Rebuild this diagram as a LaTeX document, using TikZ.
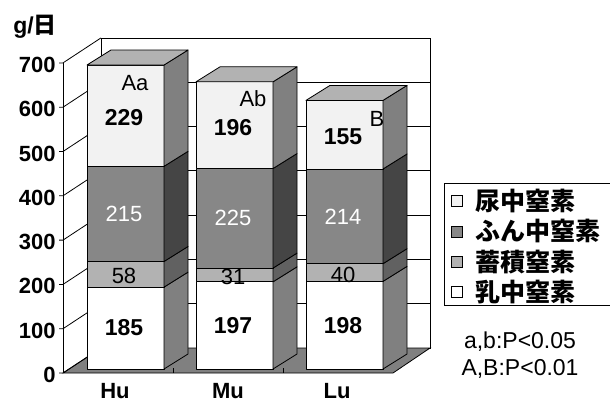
\documentclass[tikz,border=0pt]{standalone}
\usepackage{fontspec}
\setmainfont{Liberation Sans}
\newfontfamily\jpfont{Noto Sans CJK JP}
\definecolor{urinefront}{gray}{0.95}
\definecolor{urineside}{gray}{0.5}
\definecolor{fecesfront}{gray}{0.53}
\definecolor{fecesside}{gray}{0.27}
\definecolor{storedfront}{gray}{0.70}
\definecolor{storedside}{gray}{0.38}
\definecolor{milkside}{gray}{0.5}
\definecolor{topface}{gray}{0.70}
\definecolor{floorgray}{gray}{0.5}
\newcommand\barseg[5]{%
  \draw[seg,fill=#4] (#1,#2) rectangle ({#1+77},#3);
  \draw[seg,fill=#5] ({#1+77},#2) -- ({#1+101},{#2-15}) -- ({#1+101},{#3-15}) -- ({#1+77},#3) -- cycle;}
\begin{document}
\begin{tikzpicture}[x=1pt,y=-1pt,line width=0.8pt,
    seg/.style={draw=black,line join=round},
    ylab/.style={anchor=east,inner sep=0,font=\bfseries\fontsize{22}{22}\selectfont},
    boldnum/.style={inner sep=0,font=\bfseries\fontsize{23}{23}\selectfont},
    plainnum/.style={inner sep=0,font=\fontsize{22}{22}\selectfont},
    catlab/.style={anchor=base,inner sep=0,font=\bfseries\fontsize{22}{22}\selectfont},
    legbox/.style={draw=black,line width=0.6pt,minimum size=11pt,inner sep=0},
    legtext/.style={anchor=west,inner sep=0,font=\jpfont\bfseries\fontsize{25}{25}\selectfont},
    note/.style={inner sep=0,font=\fontsize{23}{23}\selectfont}]
  \useasboundingbox (0,0) rectangle (610,402);
  % back wall and grid
  \draw[fill=white] (101,38) rectangle (430,348);
  \foreach \k in {1,...,6}
    \draw (101,{348-44.3*\k}) -- (430,{348-44.3*\k});
  % floor
  \draw[fill=floorgray] (63,373) -- (393,373) -- (430,348) -- (101,348) -- cycle;
  \foreach \t in {173,283}
    \draw (\t,373) -- (\t,368);
  % left wall
  \foreach \k in {0,...,7}{
    \draw (59,{373-44.3*\k}) -- (63,{373-44.3*\k}) -- (101,{348-44.3*\k});
    \node[ylab] (y\k) at (56,{375-44.3*\k}) {\the\numexpr100*\k\relax};
  }
  \draw (63,373) -- (63,63);
  \node[boldnum] (unit) at (35,27) {g/\jpfont 日};
  % bars
  \foreach \n/\x/\mi/\st/\fe/\ur in {hu/87/185/58/215/229,mu/196/197/31/225/196,lu/306/198/40/214/155}{
    \pgfmathsetmacro\ya{369-0.4425*\mi}
    \pgfmathsetmacro\yb{\ya-0.4425*\st}
    \pgfmathsetmacro\yc{\yb-0.4425*\fe}
    \pgfmathsetmacro\yd{\yc-0.4425*\ur}
    \pgfmathsetmacro\xm{\x+37}
    \barseg{\x}{369}{\ya}{white}{milkside}
    \barseg{\x}{\ya}{\yb}{storedfront}{storedside}
    \barseg{\x}{\yb}{\yc}{fecesfront}{fecesside}
    \barseg{\x}{\yc}{\yd}{urinefront}{urineside}
    \draw[seg,fill=topface] (\x,\yd) -- ({\x+77},\yd) -- ({\x+101},{\yd-15}) -- ({\x+24},{\yd-15}) -- cycle;
    \node[boldnum] (\n-milk) at (\xm,{(369+\ya)/2}) {\mi};
    \node[plainnum] (\n-stored) at (\xm,{(\ya+\yb)/2+2}) {\st};
    \node[plainnum,text=white] (\n-feces) at (\xm,{(\yb+\yc)/2}) {\fe};
    \node[boldnum] (\n-urine) at (\xm,{(\yc+\yd)/2+2}) {\ur};
  }
  \node[plainnum] (hu-sig) at (135,83) {Aa};
  \node[plainnum] (mu-sig) at (253,99) {Ab};
  \node[plainnum] (lu-sig) at (377,119) {B};
  \node[catlab] (hu-lab) at (115,398) {Hu};
  \node[catlab] (mu-lab) at (228,398) {Mu};
  \node[catlab] (lu-lab) at (337,398) {Lu};
  % legend
  \draw (610,183) -- (444,183) -- (444,305) -- (610,305);
  \foreach \i/\c/\t in {0/urinefront/尿中窒素,1/fecesfront/ふん中窒素,2/storedfront/蓄積窒素,3/white/乳中窒素}{
    \node[legbox,fill=\c] (key\i) at (457,{201+30.4*\i}) {};
    \node[legtext] (leg\i) at (475,{201+30.4*\i}) {\t};
  }
  \node[note] (sig1) at (520,342) {a,b:P<0.05};
  \node[note] (sig2) at (520,369) {A,B:P<0.01};
\end{tikzpicture}
\end{document}
